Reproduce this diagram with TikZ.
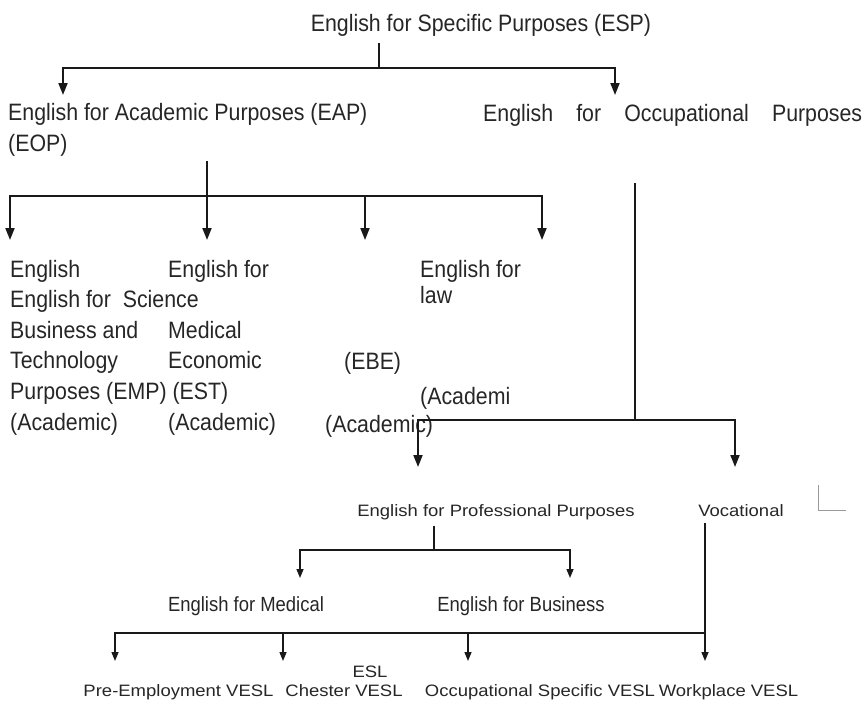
\documentclass[tikz,border=0pt]{standalone}
\usepackage{fontspec}
\setmainfont{Liberation Sans}
\newfontfamily\etroit{Liberation Sans}[FakeStretch=0.9]
\newfontfamily\ample{Liberation Sans}[FakeStretch=1.12]
\usetikzlibrary{arrows.meta}

\begin{document}
\begin{tikzpicture}[x=1pt,y=-1pt]  % un pixel = un point
\tikzstyle{texte}=[inner sep=0pt,anchor=base west,align=left,text=black!85,
  font=\etroit\fontsize{23.7}{30.6}\selectfont] % base = derniere ligne
\tikzstyle{moyen}=[inner sep=0pt,anchor=base,text=black!85,
  font=\etroit\fontsize{20.5}{24}\selectfont]
\tikzstyle{petit}=[inner sep=0pt,anchor=base,text=black!85,
  font=\ample\fontsize{16.5}{20}\selectfont]
\tikzstyle{trait}=[line width=1.8pt,black!90]
\tikzstyle{fleche}=[trait,-{Triangle[width=9pt,length=12pt]}]
\tikzstyle{trait2}=[line width=1.4pt,black!90]
\tikzstyle{fleche2}=[trait2,-{Triangle[width=7pt,length=9pt]}]
\useasboundingbox (0,0) rectangle (867,704);

% niveau 0
\node[texte,anchor=base] (esp) at (481,31) {English for Specific Purposes (ESP)};
% niveau 1
\node[texte] (eap) at (8,151) {English for Academic Purposes (EAP)\\(EOP)};
\node[texte] (eop) at (483,121) {\makebox[379pt][s]{English for Occupational Purposes}};
% niveau 2 : branche EAP
\node[texte] (emp) at (10,430) {English\\English for\ \ Science\\Business and\\Technology\\Purposes (EMP) (EST)\\(Academic)};
\node[texte] (est) at (168,430) {English for\\\mbox{}\\Medical\\Economic\\\mbox{}\\(Academic)};
\node[texte] (ebe) at (344,369) {(EBE)};
\node[texte] (ebe2) at (325,432) {(Academic)};
\node[texte] (law) at (420,303) {English for\\[-5pt]law};
\node[texte] (law2) at (420,404) {(Academi};
% niveau 2 : branche EOP
\node[petit] (epp) at (496,516) {English for Professional Purposes};
\node[petit] (voc) at (741,516) {Vocational};
% niveau 3
\node[moyen] (med) at (246,611) {English for Medical};
\node[moyen] (bus) at (521,611) {English for Business};
\node[petit] (esl) at (370,677) {ESL};
\node[petit] (pre) at (178.5,696) {Pre-Employment VESL};
\node[petit] (ches) at (344,696) {Chester VESL};
\node[petit] (occ) at (540,696) {Occupational Specific VESL};
\node[petit] (work) at (728.5,696) {Workplace VESL};

% points de jonction et pointes
\coordinate (j0) at (379,68);
\coordinate (a1) at (63,95);
\coordinate (a2) at (615,95);
\coordinate (j1) at (207,196);
\coordinate (b1) at (10,240);
\coordinate (b2) at (207,240);
\coordinate (b3) at (365,240);
\coordinate (b4) at (542,240);
\coordinate (h2) at (635,183);
\coordinate (j2) at (635,420);
\coordinate (c1) at (418,467);
\coordinate (c2) at (735,467);
\coordinate (j3) at (434,550);
\coordinate (d1) at (300,578);
\coordinate (d2) at (570,578);
\coordinate (j4) at (705,633);
\coordinate (e1) at (115,661);
\coordinate (e2) at (283,661);
\coordinate (e3) at (468,661);
\coordinate (e4) at (705,661);

\draw[trait] ([yshift=-7pt]esp.south -| j0) -- (j0);
\draw[fleche] (j0) -| (a1);
\draw[fleche] (j0) -| (a2);

\draw[trait] ([yshift=-5pt]eap.south -| j1) -- (j1);
\draw[fleche] (j1) -| (b1);
\draw[fleche] (j1) -- (b2);
\draw[fleche] (j1) -| (b3);
\draw[fleche] (j1) -| (b4);

\draw[trait] (h2) -- (j2);
\draw[fleche] (j2) -| (c1);
\draw[fleche] (j2) -| (c2);

\draw[trait2] ([yshift=-6pt]epp.south -| j3) -- (j3);
\draw[fleche2] (j3) -| (d1);
\draw[fleche2] (j3) -| (d2);

\draw[fleche2] ([yshift=-7pt]voc.south -| j4) -- (e4);
\draw[fleche2] (j4) -| (e1);
\draw[fleche2] (j4) -| (e2);
\draw[fleche2] (j4) -| (e3);

\draw[black!40,line width=0.8pt] (818,485) -- (818,510) -- (846,510); % petite marque
\end{tikzpicture}
\end{document}
